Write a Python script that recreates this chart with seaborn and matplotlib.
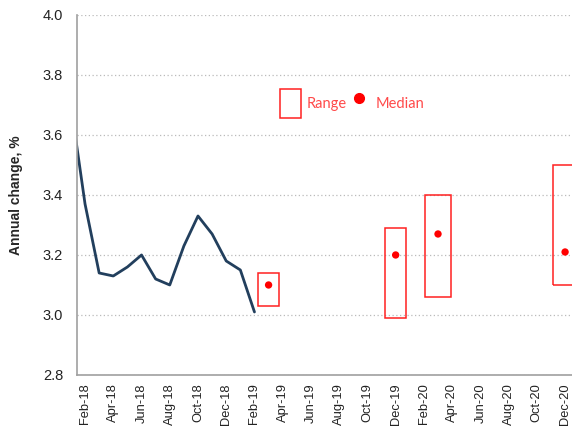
import numpy as np
import pandas as pd
import matplotlib
matplotlib.use("Agg")
import matplotlib.pyplot as plt
import seaborn as sns
from matplotlib.patches import Patch
from matplotlib.lines import Line2D

# Month labels on the x axis (every second month)
months = ["Jan-18", "Feb-18", "Mar-18", "Apr-18", "May-18", "Jun-18", "Jul-18", "Aug-18",
          "Sep-18", "Oct-18", "Nov-18", "Dec-18", "Jan-19", "Feb-19", "Mar-19", "Apr-19",
          "May-19", "Jun-19", "Jul-19", "Aug-19", "Sep-19", "Oct-19", "Nov-19", "Dec-19",
          "Jan-20", "Feb-20", "Mar-20", "Apr-20", "May-20", "Jun-20", "Jul-20", "Aug-20",
          "Sep-20", "Oct-20", "Nov-20", "Dec-20"]

# Actual annual change (Jan-18 .. Feb-19)
actual_months = months[:14]
actual_values = [3.70, 3.37, 3.14, 3.13, 3.16, 3.20, 3.12, 3.10, 3.23, 3.33, 3.27, 3.18, 3.15, 3.01]

# Forecast ranges and medians
fc_months = ["Mar-19", "Dec-19", "Mar-20", "Dec-20"]
fc_low = [3.03, 2.99, 3.06, 3.10]
fc_high = [3.14, 3.29, 3.40, 3.50]
fc_median = [3.10, 3.20, 3.27, 3.21]

# box widths in months (layout only)
box_w = [1.45, 1.45, 1.85, 1.7]

pos = {m: i - 1 for i, m in enumerate(months)}  # Feb-18 -> 0

df_act = pd.DataFrame({"x": [pos[m] for m in actual_months], "value": actual_values})
df_fc = pd.DataFrame({"x": [pos[m] for m in fc_months], "low": fc_low,
                      "high": fc_high, "median": fc_median})

sns.set_style("white")
plt.rcParams["font.family"] = ["Liberation Sans", "DejaVu Sans"]

fig = plt.figure(figsize=(5.72, 4.29), dpi=100)
ax = fig.add_axes([0.1346, 0.1259, 0.8654, 0.8392])

red = "#ff2020"
sns.lineplot(data=df_act, x="x", y="value", ax=ax, color="#223f5d", linewidth=2.0)
ax.bar(df_fc["x"], df_fc["high"] - df_fc["low"], bottom=df_fc["low"], width=box_w,
       fill=False, edgecolor=red, linewidth=1.1, zorder=3)
sns.scatterplot(data=df_fc, x="x", y="median", ax=ax, color="#ff0000", s=28,
                edgecolor="none", zorder=4)

ax.set_xlim(-0.57, 34.49)
ax.set_ylim(2.8, 4.0)
ax.set_yticks(np.arange(2.8, 4.01, 0.2))
ax.set_yticklabels([f"{v:.1f}" for v in np.arange(2.8, 4.01, 0.2)], fontsize=10.5, color="#222222")
xt = list(range(0, 35, 2))
ax.set_xticks(xt)
ax.set_xticklabels([months[i + 1] for i in xt], rotation=90, fontsize=9.3, color="#222222")
ax.tick_params(axis="y", length=0, pad=10)
ax.tick_params(axis="x", length=0, pad=6)
ax.set_xlabel("")
ax.set_ylabel("Annual change, %", fontsize=10, fontweight="bold", labelpad=14)

ax.yaxis.grid(True, linestyle=(0, (1, 2)), color="#bbbbbb", linewidth=0.9)
ax.set_axisbelow(True)
for s in ["top", "right"]:
    ax.spines[s].set_visible(False)
for s in ["left", "bottom"]:
    ax.spines[s].set_color("#a0a0a0")
    ax.spines[s].set_linewidth(1.2)

handles = [Patch(facecolor="none", edgecolor=red, linewidth=1.1),
           Line2D([], [], marker="o", linestyle="none", color="#ff0000", markersize=7)]
leg = ax.legend(handles, ["Range", "Median"], ncol=2, frameon=False,
                loc="upper left", bbox_to_anchor=(0.383, 0.832),
                handlelength=1.45, handleheight=2.7, handletextpad=0.4,
                columnspacing=0.1, prop={"family": "Lato", "size": 10.5})
for t in leg.get_texts():
    t.set_color("#ff4a4a")

fig.savefig("out.png", dpi=100)
